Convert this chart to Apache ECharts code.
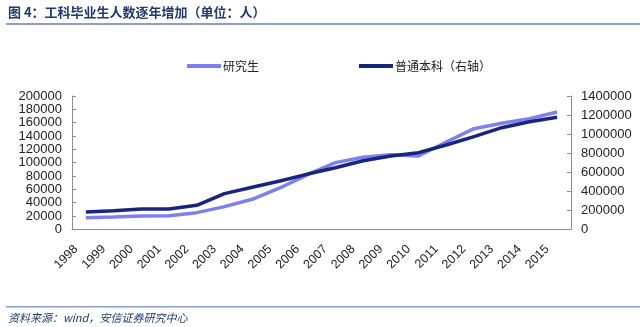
<!DOCTYPE html>
<html><head><meta charset="utf-8">
<script src="https://cdn.jsdelivr.net/npm/echarts@6/dist/echarts.min.js"></script>
<style>html,body{margin:0;padding:0;background:#fff}#c{width:640px;height:327px}</style>
</head><body><div id="c"></div>
<script>
const years = ['1998','1999','2000','2001','2002','2003','2004','2005','2006','2007','2008','2009','2010','2011','2012','2013','2014','2015'];
const graduate = [17400,18500,20000,20400,25000,34000,45000,62000,82000,100000,108000,112000,110000,131000,151000,159000,166000,176000];
const undergrad = [182000,195000,213000,213000,252000,375000,442000,507000,580000,647000,720000,770000,805000,885000,973000,1067000,1130000,1176000];
const leftTicks = {min:0, max:200000, interval:20000};
const rightTicks = {min:0, max:1400000, interval:200000};
const titleText = '图 4：工科毕业生人数逐年增加（单位：人）';
const sourceText = '资料来源：wind，安信证券研究中心';
const nameGrad = '研究生';
const nameUnder = '普通本科（右轴）';

const chart = echarts.init(document.getElementById('c'), null, {renderer:'canvas'});
const axisColor = '#8c8c8c';
const fmt = v => String(v);
const labelStyle = {color:'#222', fontSize:13, fontFamily:'Liberation Sans, Arial, sans-serif', formatter:fmt};
chart.setOption({
  animation:false,
  backgroundColor:'#fff',
  graphic:[
    {type:'text', left:8, top:6, style:{text:titleText, fill:'#1f3a70', font:'bold 13px "Noto Sans CJK SC"'}},
    {type:'rect', shape:{x:6, y:23, width:634, height:2}, style:{fill:'#8a9fc8'}},
    {type:'rect', shape:{x:6, y:306, width:634, height:1.5}, style:{fill:'#8a9fc8'}},
    {type:'text', left:8, top:312, style:{text:sourceText, fill:'#1f3a70', font:'italic 11px "Noto Sans CJK SC"'}}
  ],
  legend:[
    {data:[nameGrad], left:182, top:55, itemWidth:34, itemHeight:4, icon:'rect', itemGap:0,
     textStyle:{color:'#222', fontSize:12, fontFamily:'"Noto Sans CJK SC"', padding:[0,0,0,-3]}},
    {data:[nameUnder], left:354, top:55, itemWidth:34, itemHeight:4, icon:'rect', itemGap:0,
     textStyle:{color:'#222', fontSize:12, fontFamily:'"Noto Sans CJK SC"', padding:[0,0,0,-3]}}
  ],
  grid:{left:72, right:69, top:96, bottom:97.7, containLabel:false},
  xAxis:{type:'category', data:years, boundaryGap:true,
    axisLine:{lineStyle:{color:axisColor, width:1}},
    axisTick:{inside:true, length:4, lineStyle:{color:axisColor}},
    axisLabel:{rotate:45, margin:8, interval:0, color:'#222', fontSize:12.5, fontFamily:'Liberation Sans, Arial, sans-serif', padding:[0,14,0,0]},
    splitLine:{show:false}},
  yAxis:[
    {type:'value', position:'left', min:leftTicks.min, max:leftTicks.max, interval:leftTicks.interval,
     axisLine:{show:true, lineStyle:{color:axisColor}},
     axisTick:{show:true, inside:true, length:4, lineStyle:{color:axisColor}},
     axisLabel:Object.assign({margin:10}, labelStyle), splitLine:{show:false}},
    {type:'value', position:'right', min:rightTicks.min, max:rightTicks.max, interval:rightTicks.interval,
     axisLine:{show:true, lineStyle:{color:axisColor}},
     axisTick:{show:true, inside:true, length:4, lineStyle:{color:axisColor}},
     axisLabel:Object.assign({margin:10}, labelStyle), splitLine:{show:false}}
  ],
  series:[
    {name:nameGrad, type:'line', yAxisIndex:0, data:graduate, showSymbol:false, symbol:'none',
     lineStyle:{color:'#7f7ff0', width:3.5}, itemStyle:{color:'#7f7ff0'}},
    {name:nameUnder, type:'line', yAxisIndex:1, data:undergrad, showSymbol:false, symbol:'none',
     lineStyle:{color:'#17257e', width:3.5}, itemStyle:{color:'#17257e'}, z:3}
  ]
});
</script></body></html>
